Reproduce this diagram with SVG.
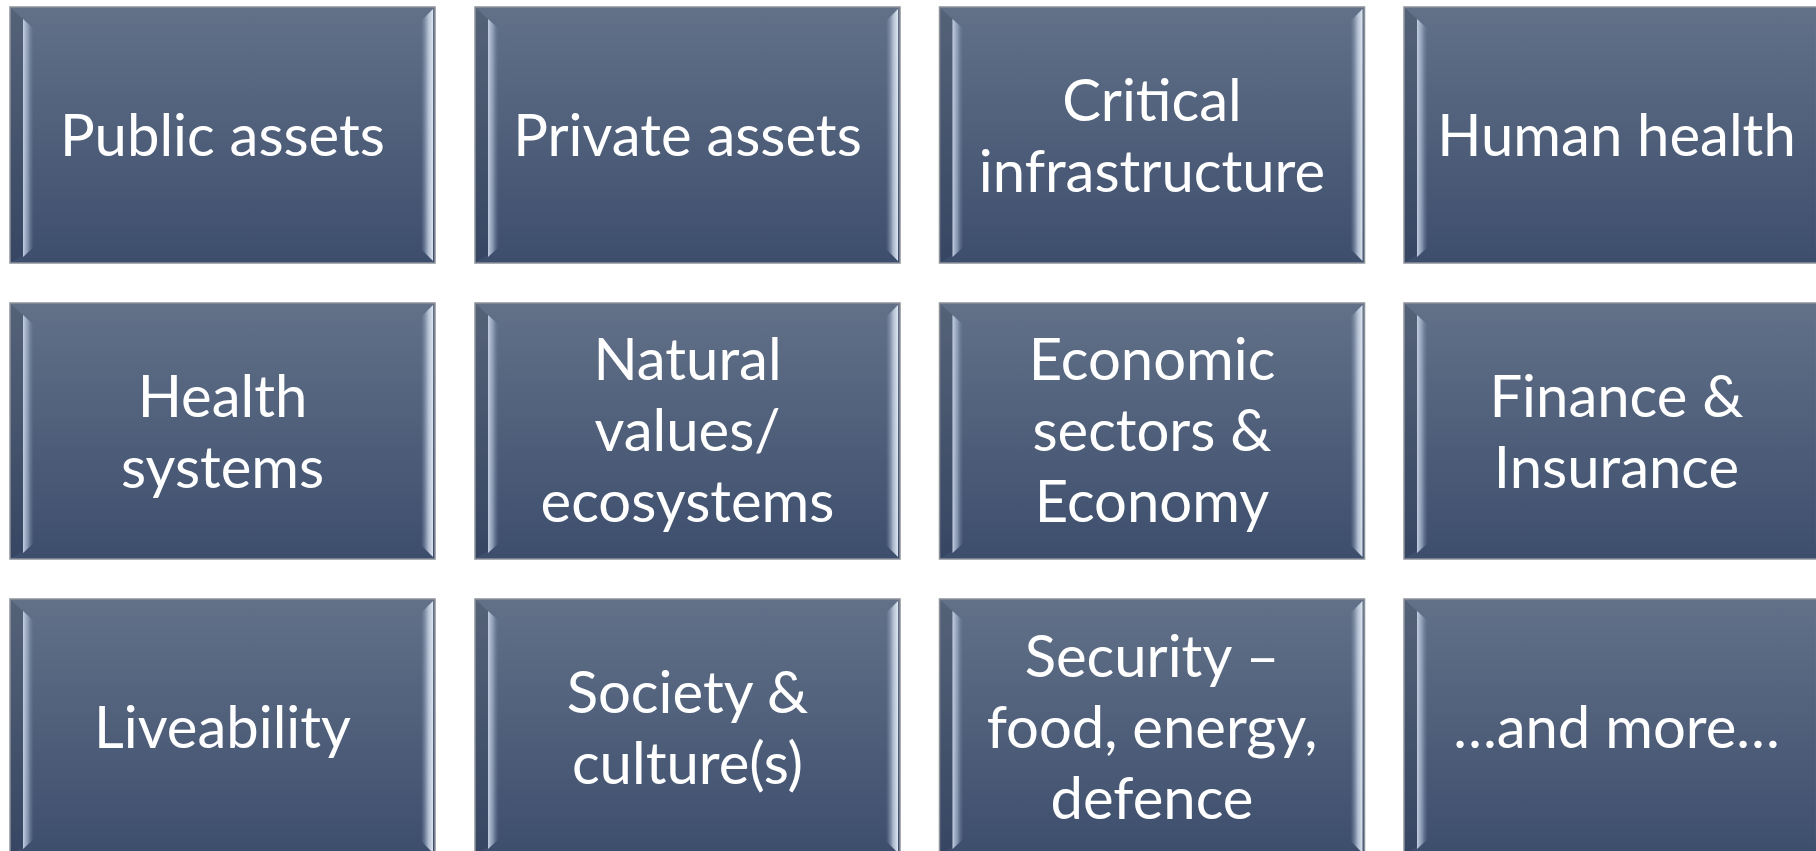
<svg xmlns="http://www.w3.org/2000/svg" width="1816" height="851" viewBox="0 0 1816 851">
<defs>
<linearGradient id="fill" x1="0" y1="0" x2="0" y2="1">
<stop offset="0" stop-color="#627188"/>
<stop offset="1" stop-color="#3d4e6d"/>
</linearGradient>
<linearGradient id="lstrip" x1="0" y1="0" x2="1" y2="0">
<stop offset="0" stop-color="#c9d4e6" stop-opacity="0.95"/>
<stop offset="0.45" stop-color="#a3b2ca" stop-opacity="0.7"/>
<stop offset="1" stop-color="#6a7a94" stop-opacity="0"/>
</linearGradient>
<linearGradient id="rstrip" x1="0" y1="0" x2="1" y2="0">
<stop offset="0" stop-color="#8e9db6" stop-opacity="0"/>
<stop offset="0.6" stop-color="#c6d2e4" stop-opacity="0.8"/>
<stop offset="1" stop-color="#e6edf7" stop-opacity="0.95"/>
</linearGradient>
<g id="box">
<rect x="0" y="0" width="425" height="256" fill="url(#fill)" stroke="#8d9199" stroke-width="1.5"/>
<polygon points="1,1 13,12 13,248 1,255" fill="#1c2433" fill-opacity="0.18"/>
<polygon points="13,12 24,22 24,240 13,250" fill="url(#lstrip)"/>
<polygon points="411,14 423,2 423,254 411,242" fill="url(#rstrip)"/>
</g>
</defs>
<style>
text{font-family:Lato,"Open Sans","Liberation Sans",sans-serif;font-size:58px;fill:#ffffff;text-anchor:middle}
</style>
<g id="connectors"/>
<g id="n1" transform="translate(10,7)"><use href="#box"/><text x="212.5" y="149">Public assets</text></g>
<g id="n2" transform="translate(475,7)"><use href="#box"/><text x="212.5" y="149">Private assets</text></g>
<g id="n3" transform="translate(939.5,7)"><use href="#box"/><text x="212.5" y="114">Critical</text><text x="212.5" y="185">infrastructure</text></g>
<g id="n4" transform="translate(1404,7)"><use href="#box"/><text x="212.5" y="149">Human health</text></g>
<g id="n5" transform="translate(10,303)"><use href="#box"/><text x="212.5" y="114">Health</text><text x="212.5" y="185">systems</text></g>
<g id="n6" transform="translate(475,303)"><use href="#box"/><text x="212.5" y="77">Natural</text><text x="212.5" y="148">values/</text><text x="212.5" y="219">ecosystems</text></g>
<g id="n7" transform="translate(939.5,303)"><use href="#box"/><text x="212.5" y="77">Economic</text><text x="212.5" y="148">sectors &amp;</text><text x="212.5" y="219">Economy</text></g>
<g id="n8" transform="translate(1404,303)"><use href="#box"/><text x="212.5" y="114">Finance &amp;</text><text x="212.5" y="185">Insurance</text></g>
<g id="n9" transform="translate(10,599)"><use href="#box"/><text x="212.5" y="149">Liveability</text></g>
<g id="n10" transform="translate(475,599)"><use href="#box"/><text x="212.5" y="114">Society &amp;</text><text x="212.5" y="185">culture(s)</text></g>
<g id="n11" transform="translate(939.5,599)"><use href="#box"/><text x="212.5" y="78">Security –</text><text x="212.5" y="149">food, energy,</text><text x="212.5" y="220">defence</text></g>
<g id="n12" transform="translate(1404,599)"><use href="#box"/><text x="212.5" y="149">…and more…</text></g>
</svg>
